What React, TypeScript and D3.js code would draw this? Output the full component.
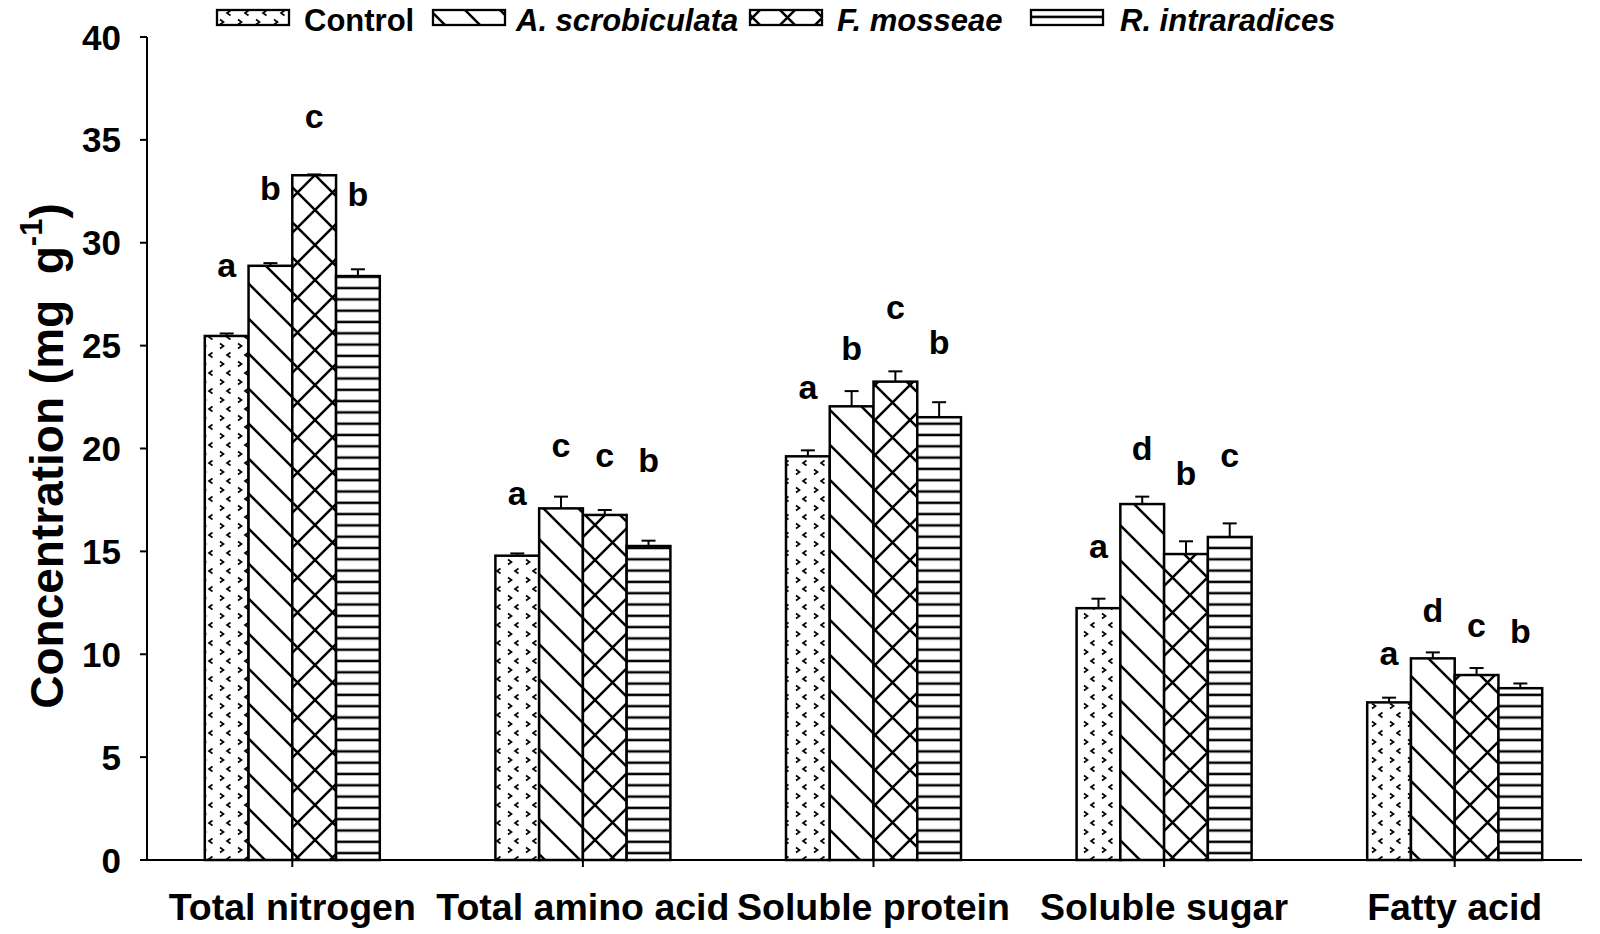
import React from "react";
import * as d3 from "d3";

const categories = ["Total nitrogen", "Total amino acid", "Soluble protein", "Soluble sugar", "Fatty acid"];
const treatments = ["Control", "A. scrobiculata", "F. mosseae", "R. intraradices"];

const controlValues = [25.47, 14.79, 19.62, 12.24, 7.66];
const scrobiculataValues = [28.88, 17.09, 22.05, 17.3, 9.8];
const mosseaeValues = [33.28, 16.77, 23.25, 14.87, 8.99];
const intraradicesValues = [28.38, 15.26, 21.52, 15.7, 8.35];

const controlErr = [0.12, 0.11, 0.29, 0.46, 0.23];
const scrobiculataErr = [0.13, 0.57, 0.74, 0.36, 0.29];
const mosseaeErr = [0.04, 0.24, 0.5, 0.62, 0.34];
const intraradicesErr = [0.33, 0.26, 0.73, 0.66, 0.23];

const controlLetters = ["a", "a", "a", "a", "a"];
const scrobiculataLetters = ["b", "c", "b", "d", "d"];
const mosseaeLetters = ["c", "c", "c", "b", "c"];
const intraradicesLetters = ["b", "b", "b", "c", "b"];

// height (data units) of each letter's baseline
const controlLetterAt = [28.35, 17.25, 22.4, 14.66, 9.48];
const scrobiculataLetterAt = [32.1, 19.6, 24.3, 19.44, 11.58];
const mosseaeLetterAt = [35.6, 19.1, 26.3, 18.23, 10.85];
const intraradicesLetterAt = [31.8, 18.87, 24.6, 19.12, 10.53];

const yTicks = [0, 5, 10, 15, 20, 25, 30, 35, 40];

const seriesValues = [controlValues, scrobiculataValues, mosseaeValues, intraradicesValues];
const seriesErr = [controlErr, scrobiculataErr, mosseaeErr, intraradicesErr];
const seriesLetters = [controlLetters, scrobiculataLetters, mosseaeLetters, intraradicesLetters];
const seriesLetterAt = [controlLetterAt, scrobiculataLetterAt, mosseaeLetterAt, intraradicesLetterAt];
const patternIds = ["pat-dots", "pat-diag", "pat-cross", "pat-horiz"];

const W = 1600;
const H = 934;
const FONT = "'Liberation Sans', Arial, Helvetica, sans-serif";

export default function App() {
  const y = d3.scaleLinear().domain([0, 40]).range([860, 37]);
  const x = d3.scaleBand<string>().domain(categories).range([147, 1600]).padding(0);
  const groupW = 175;
  const xi = d3.scaleBand<string>().domain(treatments).range([0, groupW]).padding(0);
  const bw = xi.bandwidth();
  const groupStart = (c: string) => (x(c) as number) + (x.bandwidth() - groupW) / 2;

  const s = 35;
  const legendSwatchX = [217, 433, 750, 1031];
  const legendTextX = [304, 516, 837, 1120];

  return (
    <svg width={W} height={H} style={{ position: "absolute", left: 0, top: 0, background: "#fff" }} fontFamily={FONT}>
      <defs>
        <pattern id="pat-dots" patternUnits="userSpaceOnUse" width={18} height={18}>
          <rect width={18} height={18} fill="#fff" />
          <path d="M4,1.5 L7.5,4 L4,6.5 M14.5,10.5 L11,13 L14.5,15.5" fill="none" stroke="#000" strokeWidth={1.7} />
        </pattern>
        <pattern id="pat-diag" patternUnits="userSpaceOnUse" width={s} height={s}>
          <rect width={s} height={s} fill="#fff" />
          <path d={`M-2,-2 L${s + 2},${s + 2} M-2,${s - 2} L2,${s + 2} M${s - 2},-2 L${s + 2},2`} stroke="#000" strokeWidth={2.5} />
        </pattern>
        <pattern id="pat-cross" patternUnits="userSpaceOnUse" width={s} height={s}>
          <rect width={s} height={s} fill="#fff" />
          <path
            d={`M-2,-2 L${s + 2},${s + 2} M-2,${s - 2} L2,${s + 2} M${s - 2},-2 L${s + 2},2 M-2,${s + 2} L${s + 2},-2 M-2,2 L2,-2 M${s - 2},${s + 2} L${s + 2},${s - 2}`}
            stroke="#000"
            strokeWidth={2.5}
          />
        </pattern>
        <pattern id="pat-horiz" patternUnits="userSpaceOnUse" width={10} height={11.3}>
          <rect width={10} height={11.3} fill="#fff" />
          <line x1={0} x2={10} y1={5.6} y2={5.6} stroke="#000" strokeWidth={2.5} />
        </pattern>
      </defs>

      {/* Legend */}
      {treatments.map((t, i) => (
        <g key={t}>
          <rect x={legendSwatchX[i]} y={10} width={72} height={15} fill={`url(#${patternIds[i]})`} stroke="#000" strokeWidth={2.3} />
          <text x={legendTextX[i]} y={31} fontSize={31} fontWeight="bold" fontStyle={i === 0 ? "normal" : "italic"}>
            {t}
          </text>
        </g>
      ))}

      {/* Bars */}
      {categories.map((c, ci) => (
        <g key={c}>
          {treatments.map((t, ti) => {
            const v = seriesValues[ti][ci];
            const e = seriesErr[ti][ci];
            const x0 = groupStart(c) + (xi(t) as number);
            const cx = x0 + bw / 2;
            return (
              <g key={t}>
                <line x1={cx} x2={cx} y1={y(v)} y2={y(v + e)} stroke="#000" strokeWidth={2} />
                <line x1={cx - 7} x2={cx + 7} y1={y(v + e)} y2={y(v + e)} stroke="#000" strokeWidth={2} />
                <rect x={x0} y={y(v)} width={bw} height={y(0) - y(v)} fill={`url(#${patternIds[ti]})`} stroke="#000" strokeWidth={2.5} />
                <text x={cx} y={y(seriesLetterAt[ti][ci])} textAnchor="middle" fontSize={34} fontWeight="bold">
                  {seriesLetters[ti][ci]}
                </text>
              </g>
            );
          })}
        </g>
      ))}

      {/* Y axis */}
      <line x1={147} x2={147} y1={y(40)} y2={y(0)} stroke="#000" strokeWidth={2} />
      {yTicks.map((t) => (
        <g key={t}>
          <line x1={140} x2={147} y1={y(t)} y2={y(t)} stroke="#000" strokeWidth={2} />
          <text x={121} y={y(t)} dy="0.36em" textAnchor="end" fontSize={35} fontWeight="bold">
            {t}
          </text>
        </g>
      ))}

      {/* X axis */}
      <line x1={140} x2={1582} y1={y(0)} y2={y(0)} stroke="#000" strokeWidth={2} />
      {categories.map((c) => {
        const cx = (x(c) as number) + x.bandwidth() / 2;
        return (
          <g key={c}>
            <line x1={cx} x2={cx} y1={y(0)} y2={y(0) + 7} stroke="#000" strokeWidth={2} />
            <text x={cx} y={920} textAnchor="middle" fontSize={37.5} fontWeight="bold">
              {c}
            </text>
          </g>
        );
      })}

      {/* Y title */}
      <text transform={`translate(63, 456) rotate(-90)`} textAnchor="middle" fontSize={46} fontWeight="bold" style={{ whiteSpace: "pre" }}>
        <tspan>{"Concentration (mg  g"}</tspan>
        <tspan fontSize={31} dy={-21}>{"-1"}</tspan>
        <tspan dy={21}>{")"}</tspan>
      </text>
    </svg>
  );
}
